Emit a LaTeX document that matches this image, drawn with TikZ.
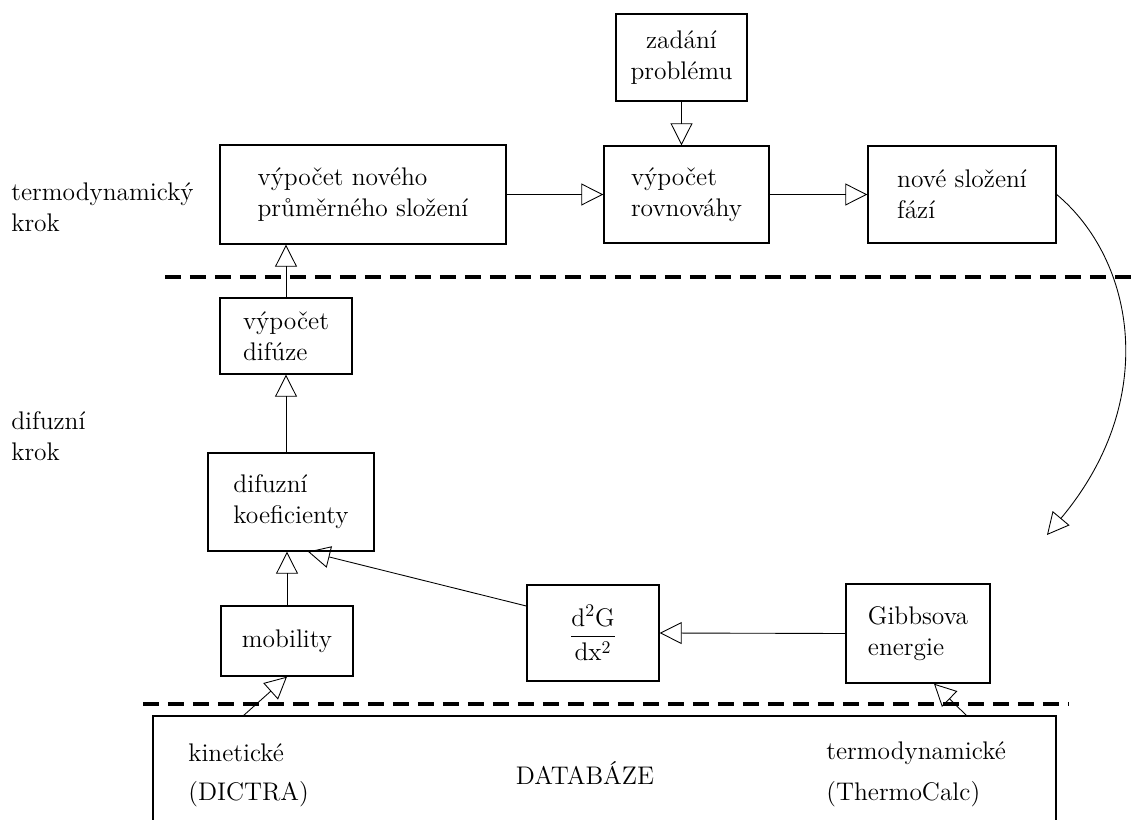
\documentclass[tikz,border=0pt]{standalone}
\usepackage{amsmath}
\usepackage{fontspec}
\usepackage{tikz}
\usetikzlibrary{arrows.meta}

\tikzset{
  box/.style={draw, line width=0.8pt, align=left, font=\fontsize{14.5}{17.5}\selectfont},
  lbl/.style={anchor=west, align=left, inner sep=0pt, font=\fontsize{14.5}{17.5}\selectfont},
  flow/.style={line width=0.5pt, -{Triangle[open,length=0.44cm,width=0.44cm]}},
  cut/.style={line width=1.8pt, dash pattern=on 0.32cm off 0.18cm},
}

\begin{document}
\begin{tikzpicture}[x=0.02cm,y=-0.02cm]
\useasboundingbox (0,0) rectangle (1133,820);

% thermodynamic step
\node[box, align=center, minimum width=2.62cm, minimum height=1.74cm] (prob) at (681.5,57.5) {zadání\\problému};
\node[box, minimum width=5.72cm, minimum height=1.98cm] (prumer) at (363,194.5) {výpočet nového\\průměrného složení};
\node[box, minimum width=3.3cm, minimum height=1.94cm] (rovn) at (686.5,194.5) {výpočet\\rovnováhy};
\node[box, minimum width=3.76cm, minimum height=1.94cm] (slozeni) at (962,194.5) {nové složení\\fází};

% diffusion step
\node[box, minimum width=2.64cm, minimum height=1.52cm] (difuze) at (286,336) {výpočet\\difúze};
\node[box, minimum width=3.32cm, minimum height=1.96cm] (koef) at (291,502) {difuzní\\koeficienty};
\node[box, minimum width=2.64cm, minimum height=1.4cm] (mob) at (287,641) {mobility};
\node[box, minimum width=2.64cm, minimum height=1.92cm] (d2g) at (593,633) {$\dfrac{\mathrm{d^2G}}{\mathrm{dx^2}}$};
\node[box, minimum width=2.88cm, minimum height=1.98cm] (gibbs) at (918,633.5) {Gibbsova\\energie};

% step labels
\node[lbl] (termo) at (11,207) {termodynamický\\krok};
\node[lbl] (difkrok) at (11,436) {difuzní\\krok};

% dividing lines
\draw[cut] (165,277) -- (1133,277);
\draw[cut] (143,704) -- (1068,704);

% database
\draw[line width=0.8pt] (153,830) -- (153,716) -- (1056,716) -- (1056,830);
\coordinate (dbk) at (243,716);
\coordinate (dbt) at (967,716);
\node[lbl] (kin) at (188,753) {kinetické};
\node[lbl] (dictra) at (188,794) {(DICTRA)};
\node[lbl] (tdb) at (826,753) {termodynamické};
\node[lbl] (calc) at (826,794) {(ThermoCalc)};
\node[lbl, anchor=center] (db) at (585,773) {DATABÁZE};

% connectors
\draw[flow] (prob.south) -- (prob.south |- rovn.north);
\draw[flow] (prumer.east) -- (rovn.west);
\draw[flow] (rovn.east) -- (slozeni.west);
\draw[flow] (slozeni.east) .. controls (1135,260) and (1160,400) .. (1047,535);
\draw[flow] (difuze.north) -- (difuze.north |- prumer.south);
\draw[flow] (difuze.south |- koef.north) -- (difuze.south);
\draw[flow] (mob.north) -- (mob.north |- koef.south);
\draw[flow] ([yshift=0.54cm]d2g.west) -- ([xshift=0.34cm]koef.south);
\draw[flow] (gibbs.west) -- (d2g.east);
\draw[flow] (dbk) -- (mob.south);
\draw[flow] (dbt) -- ([xshift=0.32cm]gibbs.south);
\end{tikzpicture}
\end{document}
